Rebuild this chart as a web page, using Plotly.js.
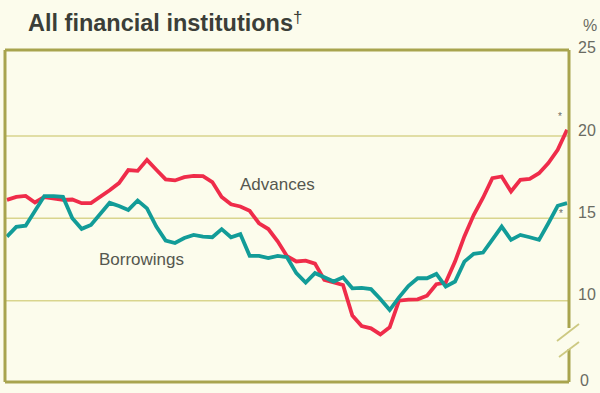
<!DOCTYPE html>
<html>
<head>
<meta charset="utf-8">
<script src="https://cdn.plot.ly/plotly-3.0.1.min.js"></script>
<style>html,body{margin:0;padding:0;background:#fcfcec;}#chart{width:600px;height:393px;}</style>
</head>
<body>
<div id="chart"></div>
<script>
// Monthly observation index (61 months)
const months = [0,1,2,3,4,5,6,7,8,9,10,11,12,13,14,15,16,17,18,19,20,21,22,23,24,25,26,27,28,29,30,
  31,32,33,34,35,36,37,38,39,40,41,42,43,44,45,46,47,48,49,50,51,52,53,54,55,56,57,58,59,60];

const advances = [16.12,16.30,16.36,15.96,16.29,16.18,16.12,16.14,15.92,15.92,16.29,16.70,17.14,17.93,17.88,18.55,
  17.95,17.36,17.30,17.50,17.58,17.56,17.20,16.30,15.85,15.72,15.45,14.70,14.35,13.60,12.70,
  12.38,12.43,12.25,11.26,11.10,10.95,9.10,8.46,8.32,7.95,8.38,10.00,10.06,10.08,10.30,
  11.00,11.10,12.37,13.90,15.20,16.25,17.44,17.54,16.63,17.34,17.40,17.74,18.35,19.16,20.38];

const borrowings = [13.89,14.48,14.55,15.50,16.35,16.35,16.30,15.00,14.36,14.60,15.30,15.94,15.75,15.51,16.08,15.60,
  14.50,13.65,13.50,13.80,13.99,13.89,13.85,14.34,13.85,14.04,12.72,12.72,12.58,12.72,12.64,
  11.67,11.10,11.67,11.42,11.16,11.42,10.75,10.78,10.70,10.10,9.43,10.20,10.89,11.36,11.36,
  11.62,10.85,11.16,12.37,12.84,12.92,13.70,14.50,13.69,13.99,13.85,13.69,14.70,15.76,15.92];

const tickVals = [10,15,20,25];
const tickText = ['10','15','20','25'];
const baseLabel = '0';   // label at the foot of the broken axis
const gridVals = [10,15,20];

const frameCol = '#a8a44e';
const gridCol = '#d9d58e';

const shapes = [];
gridVals.forEach(v => shapes.push({type:'line', xref:'paper', yref:'y', x0:0, x1:1, y0:v, y1:v,
  line:{color:gridCol, width:1.5}, layer:'below'}));
// frame
shapes.push({type:'line', xref:'paper', yref:'paper', x0:0, x1:0, y0:0, y1:1, line:{color:frameCol, width:3}});
shapes.push({type:'line', xref:'paper', yref:'paper', x0:0, x1:1, y0:1, y1:1, line:{color:frameCol, width:3}});
shapes.push({type:'line', xref:'paper', yref:'paper', x0:0, x1:1, y0:0, y1:0, line:{color:frameCol, width:3}});
shapes.push({type:'line', xref:'paper', yref:'paper', x0:1, x1:1, y0:(382-328)/332, y1:1, line:{color:frameCol, width:3}});
shapes.push({type:'line', xref:'paper', yref:'paper', x0:1, x1:1, y0:0, y1:(382-349)/332, line:{color:frameCol, width:3}});
// axis break marks
shapes.push({type:'line', xref:'paper', yref:'paper', x0:(557-5)/564, x1:(579-5)/564, y0:(382-341)/332, y1:(382-324)/332, line:{color:'#cdc982', width:1.8}});
shapes.push({type:'line', xref:'paper', yref:'paper', x0:(559-5)/564, x1:(579-5)/564, y0:(382-357)/332, y1:(382-342)/332, line:{color:'#cdc982', width:1.8}});

const traces = [
  {x: months, y: advances, type:'scatter', mode:'lines', name:'Advances',
   line:{color:'#ef2c4a', width:3.8}},
  {x: months, y: borrowings, type:'scatter', mode:'lines', name:'Borrowings',
   line:{color:'#129c98', width:3.8}}
];

const tickFont = {family:'Liberation Sans, Arial, sans-serif', size:16, color:'#6a6b62'};
const labFont = {family:'Liberation Sans, Arial, sans-serif', size:17, color:'#55574f'};
const annotations = [
  {xref:'paper', yref:'paper', x:(26-5)/564, y:(382-23)/332, xanchor:'left', yanchor:'middle', showarrow:false,
   text:'All financial institutions', font:{family:'Liberation Sans, Arial, sans-serif', size:23.5, color:'#3b3e38', weight:'bold'}},
  {xref:'paper', yref:'paper', x:(291-5)/564, y:(382-17)/332, xanchor:'left', yanchor:'middle', showarrow:false,
   text:'†', font:{family:'Liberation Sans, Arial, sans-serif', size:17, color:'#3b3e38'}},
  {xref:'paper', yref:'paper', x:(581-5)/564, y:(382-26)/332, xanchor:'left', yanchor:'middle', showarrow:false,
   text:'%', font:tickFont},
  {xref:'paper', yref:'paper', x:(578-5)/564, y:(382-380)/332, xanchor:'left', yanchor:'middle', showarrow:false,
   text:baseLabel, font:tickFont},
  {x:28.98, y:17.03, xanchor:'center', yanchor:'middle', showarrow:false, text:'Advances', font:labFont},
  {x:14.36, y:12.47, xanchor:'center', yanchor:'middle', showarrow:false, text:'Borrowings', font:labFont},
  {x:59.25, y:21.17, xanchor:'center', yanchor:'middle', showarrow:false, text:'*', font:{family:'Liberation Sans, Arial, sans-serif', size:10, color:'#6a6b62'}},
  {x:59.3, y:15.3, xanchor:'center', yanchor:'middle', showarrow:false, text:'*', font:{family:'Liberation Sans, Arial, sans-serif', size:10, color:'#6a6b62'}}
];

const layout = {
  width:600, height:393,
  margin:{l:5, r:31, t:50, b:11, pad:0},
  paper_bgcolor:'#fcfcec', plot_bgcolor:'#fcfcec',
  showlegend:false,
  xaxis:{range:[-0.21,60.21], showgrid:false, zeroline:false, showticklabels:false, ticks:'', showline:false, fixedrange:true},
  yaxis:{range:[5.06,25.22], side:'right', showgrid:false, zeroline:false, showline:false, ticks:'',
    tickmode:'array', tickvals:tickVals, ticktext:tickText, ticklabelstandoff:8, ticklabelshift:-6,
    tickfont:tickFont, fixedrange:true},
  shapes:shapes,
  annotations:annotations
};

Plotly.newPlot('chart', traces, layout, {displayModeBar:false, staticPlot:true});
</script>
</body>
</html>
